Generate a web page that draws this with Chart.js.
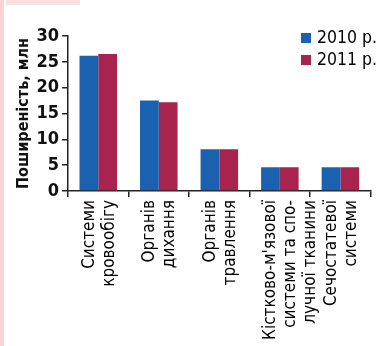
<!DOCTYPE html>
<html>
<head>
<meta charset="utf-8">
<script src="https://cdn.jsdelivr.net/npm/chart.js@4"></script>
<style>
  html, body { margin: 0; padding: 0; background: #fff; }
  #wrap { position: relative; width: 384px; height: 346px; overflow: hidden; }
  #stripe { position: absolute; left: 0; top: 0; width: 4px; height: 346px; background: #fbd3d6; }
  #corner { position: absolute; left: 6px; top: 0; width: 74px; height: 5px; background: #fbe0e2; }
  #legend { position: absolute; left: 301px; top: 26px; font-family: "DejaVu Sans Condensed", "DejaVu Sans", sans-serif; font-size: 17.5px; color: #000; }
  #legend div { height: 22px; line-height: 22px; white-space: nowrap; }
  #legend span.sw { display: inline-block; width: 10px; height: 10px; margin-right: 6px; vertical-align: 0px; }
</style>
</head>
<body>
<div id="wrap">
  <canvas id="chart" width="384" height="346"></canvas>
  <div id="stripe"></div>
  <div id="corner"></div>
  <div id="legend"></div>
</div>
<script>
const categories = [
    ["Системи", "кровообігу"],
    ["Органів", "дихання"],
    ["Органів", "травлення"],
    ["Кістково-м'язової", "системи та спо-", "лучної тканини"],
    ["Сечостатевої", "системи"]
];
const seriesNames = ["2010 р.", "2011 р."];
const values2010 = [26.2, 17.5, 8.1, 4.6, 4.6];
const values2011 = [26.5, 17.2, 8.1, 4.6, 4.6];
const yTicks = [0, 5, 10, 15, 20, 25, 30];

const colors = ["#1a62b0", "#a8244f"];
const fontFamily = "'DejaVu Sans Condensed', 'DejaVu Sans', sans-serif";

// html legend in the top right corner
const legendEl = document.getElementById("legend");
seriesNames.forEach((name, i) => {
    const row = document.createElement("div");
    row.innerHTML = `<span class="sw" style="background:${colors[i]}"></span>${name}`;
    legendEl.appendChild(row);
});

const ctx = document.getElementById("chart").getContext("2d");
const chart = new Chart(ctx, {
  type: "bar",
  data: {
    labels: categories,
    datasets: [
      { label: seriesNames[0], data: values2010, backgroundColor: colors[0], borderWidth: 0 },
      { label: seriesNames[1], data: values2011, backgroundColor: colors[1], borderWidth: 0 }
    ]
  },
  options: {
    responsive: false,
    animation: false,
    layout: { padding: { top: 36, right: 5, left: 14, bottom: 0 } },
    datasets: { bar: { categoryPercentage: 0.62, barPercentage: 1.0 } },
    plugins: {
      legend: { display: false },
      tooltip: { enabled: false }
    },
    scales: {
      x: {
        grid: { display: true, drawOnChartArea: false, offset: true, color: "#222", tickLength: 6, lineWidth: 1.5 },
        border: { display: true, color: "#222", width: 1.5 },
        ticks: {
          color: "#000",
          autoSkip: false,
          minRotation: 90,
          maxRotation: 90,
          labelOffset: -9,
          font: { family: fontFamily, size: 17, lineHeight: 1.18 },
          padding: 3
        },
        afterFit(scale) { scale.height = 155; }
      },
      y: {
        min: 0,
        max: 30,
        afterBuildTicks(scale) { scale.ticks = yTicks.map(v => ({ value: v })); },
        grid: { display: true, drawOnChartArea: false, color: "#222", tickLength: 6, lineWidth: 1.5 },
        border: { display: true, color: "#222", width: 1.5 },
        ticks: { color: "#111", font: { family: fontFamily, size: 18, weight: "bold" }, padding: 3 },
        title: {
          display: true,
          text: "Поширеність, млн",
          color: "#111",
          font: { family: fontFamily, size: 16, weight: "bold" },
          padding: { top: 0, bottom: 3 }
        },
        afterFit(scale) { scale.width = 54; }
      }
    }
  }
});
</script>
</body>
</html>
